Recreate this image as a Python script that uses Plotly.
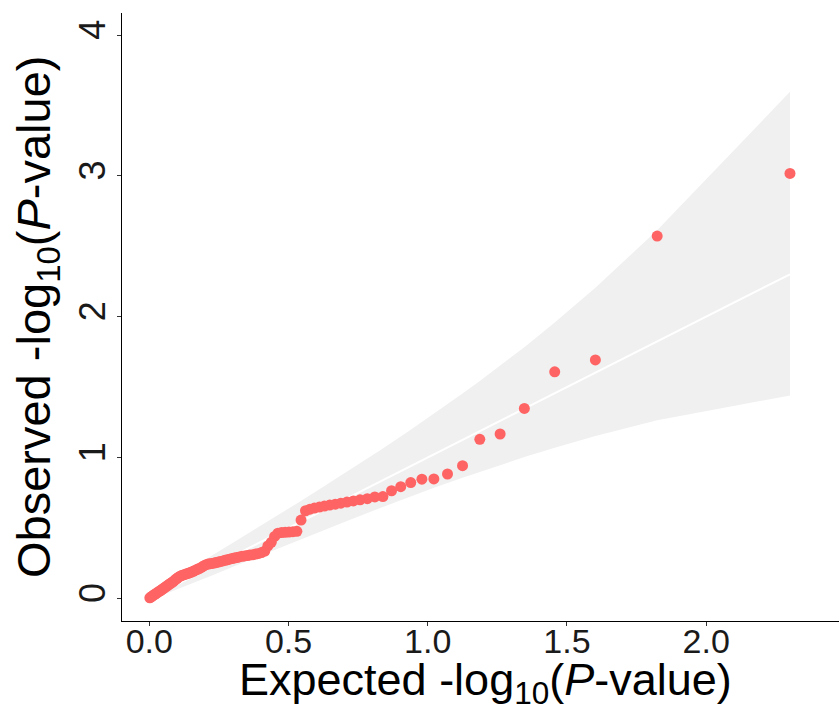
import plotly.graph_objects as go

# Expected -log10(P) (ranked, 100 tests)
expected = [2.301, 1.824, 1.602, 1.456, 1.347, 1.260, 1.187, 1.125, 1.071, 1.022,
            0.979, 0.939, 0.903, 0.870, 0.839, 0.810, 0.783, 0.757, 0.733, 0.710,
            0.688, 0.668, 0.648, 0.629, 0.611, 0.593, 0.577, 0.561, 0.545, 0.530,
            0.516, 0.502, 0.488, 0.475, 0.462, 0.450, 0.438, 0.426, 0.415, 0.403,
            0.393, 0.382, 0.372, 0.361, 0.352, 0.342, 0.333, 0.323, 0.314, 0.305,
            0.297, 0.288, 0.280, 0.272, 0.264, 0.256, 0.248, 0.240, 0.233, 0.225,
            0.218, 0.211, 0.204, 0.197, 0.190, 0.184, 0.177, 0.171, 0.164, 0.158,
            0.152, 0.146, 0.140, 0.134, 0.128, 0.122, 0.116, 0.111, 0.105, 0.100,
            0.094, 0.089, 0.084, 0.078, 0.073, 0.068, 0.063, 0.058, 0.053, 0.048,
            0.043, 0.039, 0.034, 0.029, 0.025, 0.020, 0.015, 0.011, 0.007, 0.002]

# Observed -log10(P)
observed = [3.018, 2.573, 1.693, 1.609, 1.349, 1.167, 1.129, 0.942, 0.883, 0.848,
            0.846, 0.822, 0.793, 0.764, 0.723, 0.720, 0.708, 0.700, 0.692, 0.684,
            0.676, 0.669, 0.662, 0.655, 0.648, 0.641, 0.633, 0.622, 0.556, 0.476,
            0.473, 0.471, 0.469, 0.467, 0.463, 0.440, 0.398, 0.372, 0.336, 0.325,
            0.319, 0.314, 0.310, 0.307, 0.304, 0.301, 0.298, 0.294, 0.290, 0.286,
            0.282, 0.278, 0.274, 0.270, 0.266, 0.262, 0.258, 0.254, 0.251, 0.248,
            0.246, 0.243, 0.239, 0.232, 0.224, 0.216, 0.210, 0.204, 0.198, 0.192,
            0.187, 0.182, 0.178, 0.174, 0.170, 0.166, 0.162, 0.157, 0.150, 0.142,
            0.133, 0.124, 0.116, 0.108, 0.101, 0.094, 0.087, 0.080, 0.073, 0.066,
            0.059, 0.053, 0.047, 0.041, 0.035, 0.029, 0.022, 0.016, 0.010, 0.004]

# 95% confidence band
band_x = [2.301, 1.824, 1.602, 1.456, 1.347, 1.260, 1.187, 1.125, 1.022, 0.939,
          0.839, 0.710, 0.611, 0.530, 0.462, 0.403, 0.305, 0.225, 0.158, 0.128,
          0.073, 0.048, 0.025, 0.002]
band_upper = [3.597, 2.614, 2.206, 1.959, 1.784, 1.651, 1.544, 1.454, 1.310, 1.197,
              1.064, 0.898, 0.774, 0.674, 0.590, 0.519, 0.400, 0.304, 0.222, 0.186,
              0.117, 0.084, 0.052, 0.016]
band_lower = [1.441, 1.264, 1.153, 1.069, 1.003, 0.947, 0.899, 0.857, 0.785, 0.724,
              0.649, 0.550, 0.472, 0.408, 0.355, 0.307, 0.228, 0.163, 0.108, 0.085,
              0.043, 0.025, 0.010, 0.000]

x_ticks = [0, 0.5, 1.0, 1.5, 2.0]
x_ticklabels = ["0.0", "0.5", "1.0", "1.5", "2.0"]
y_ticks = [0, 1, 2, 3, 4]
y_ticklabels = ["0", "1", "2", "3", "4"]

x_title = "Expected -log<sub>10</sub>(<i>P</i>-value)"
y_title = "Observed -log<sub>10</sub>(<i>P</i>-value)"

FONT = "Liberation Sans, Arial, Helvetica, sans-serif"

fig = go.Figure()
fig.add_trace(go.Scatter(
    x=band_x + band_x[::-1],
    y=band_upper + band_lower[::-1],
    fill="toself", fillcolor="#F0F0F0",
    line=dict(width=0), mode="lines", hoverinfo="skip", showlegend=False))
fig.add_trace(go.Scatter(
    x=expected, y=expected, mode="lines",
    line=dict(color="white", width=2), showlegend=False))
fig.add_trace(go.Scatter(
    x=expected, y=observed, mode="markers",
    marker=dict(color="#FF6464", size=11, line=dict(width=0)),
    showlegend=False))

fig.update_layout(
    width=839, height=711,
    margin=dict(l=122, r=0, t=13, b=90),
    paper_bgcolor="white", plot_bgcolor="white",
    font=dict(family=FONT, color="black"),
    xaxis=dict(
        range=[-0.098, 2.477], showgrid=False, zeroline=False,
        showline=True, linecolor="black", linewidth=1.2,
        ticks="outside", ticklen=4, tickwidth=1.2, tickcolor="#333333",
        tickvals=x_ticks, ticktext=x_ticklabels, ticklabelstandoff=-14,
        tickfont=dict(size=34, color="#1a1a1a", family=FONT),
    ),
    yaxis=dict(
        range=[-0.161, 4.157], showgrid=False, zeroline=False,
        showline=True, linecolor="black", linewidth=1.2,
        ticks="outside", ticklen=4, tickwidth=1.2, tickcolor="#333333",
        tickvals=y_ticks, ticktext=y_ticklabels, tickangle=-90,
        ticklabelstandoff=-2,
        tickfont=dict(size=36, color="#1a1a1a", family=FONT),
    ),
    annotations=[
        dict(text=x_title, xref="paper", yref="paper", x=0.507, y=-0.101,
             xanchor="center", yanchor="middle", showarrow=False,
             font=dict(size=45, color="black", family=FONT)),
        dict(text=y_title, xref="paper", yref="paper", x=-0.1185, y=0.50,
             xanchor="center", yanchor="middle", showarrow=False, textangle=-90,
             font=dict(size=47, color="black", family=FONT)),
    ],
)

fig.write_html("out.html")
